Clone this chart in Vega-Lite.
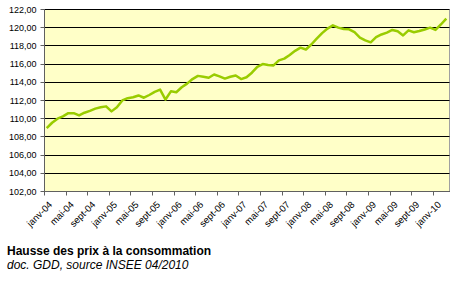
{
  "$schema": "https://vega.github.io/schema/vega-lite/v6.json",
  "width": 405,
  "height": 182,
  "autosize": {"type": "none"},
  "padding": {"left": 44, "top": 9, "right": 3, "bottom": 92},
  "background": "white",
  "title": {
    "text": "Hausse des prix à la consommation",
    "subtitle": "doc. GDD, source INSEE 04/2010",
    "orient": "bottom",
    "anchor": "start",
    "frame": "group",
    "dx": -37,
    "offset": 18,
    "font": "Liberation Sans",
    "fontSize": 12,
    "fontWeight": "bold",
    "color": "#000000",
    "subtitleFont": "Liberation Sans",
    "subtitleFontSize": 12,
    "subtitleFontStyle": "italic",
    "subtitleColor": "#000000",
    "subtitlePadding": 2
  },
  "config": {
    "view": {"fill": "#FFFFC8", "stroke": "#A0A0A0", "strokeWidth": 1},
    "axis": {"labelFont": "Liberation Sans", "labelColor": "#000000", "labelFontSize": 9}
  },
  "data": {
    "values": [
      {"mois": "janv-04", "ipc": 108.9}, {"mois": "févr-04", "ipc": 109.5}, {"mois": "mars-04", "ipc": 109.95}, {"mois": "avr-04", "ipc": 110.2},
      {"mois": "mai-04", "ipc": 110.55}, {"mois": "juin-04", "ipc": 110.55}, {"mois": "juil-04", "ipc": 110.3}, {"mois": "août-04", "ipc": 110.6},
      {"mois": "sept-04", "ipc": 110.8}, {"mois": "oct-04", "ipc": 111.05}, {"mois": "nov-04", "ipc": 111.2}, {"mois": "déc-04", "ipc": 111.3},
      {"mois": "janv-05", "ipc": 110.75}, {"mois": "févr-05", "ipc": 111.2}, {"mois": "mars-05", "ipc": 111.95}, {"mois": "avr-05", "ipc": 112.2},
      {"mois": "mai-05", "ipc": 112.3}, {"mois": "juin-05", "ipc": 112.5}, {"mois": "juil-05", "ipc": 112.25}, {"mois": "août-05", "ipc": 112.55},
      {"mois": "sept-05", "ipc": 112.9}, {"mois": "oct-05", "ipc": 113.15}, {"mois": "nov-05", "ipc": 112.05}, {"mois": "déc-05", "ipc": 112.95},
      {"mois": "janv-06", "ipc": 112.85}, {"mois": "févr-06", "ipc": 113.4}, {"mois": "mars-06", "ipc": 113.8}, {"mois": "avr-06", "ipc": 114.3},
      {"mois": "mai-06", "ipc": 114.65}, {"mois": "juin-06", "ipc": 114.55}, {"mois": "juil-06", "ipc": 114.45}, {"mois": "août-06", "ipc": 114.8},
      {"mois": "sept-06", "ipc": 114.6}, {"mois": "oct-06", "ipc": 114.35}, {"mois": "nov-06", "ipc": 114.55}, {"mois": "déc-06", "ipc": 114.7},
      {"mois": "janv-07", "ipc": 114.3}, {"mois": "févr-07", "ipc": 114.5}, {"mois": "mars-07", "ipc": 115.0}, {"mois": "avr-07", "ipc": 115.65},
      {"mois": "mai-07", "ipc": 115.95}, {"mois": "juin-07", "ipc": 115.85}, {"mois": "juil-07", "ipc": 115.8}, {"mois": "août-07", "ipc": 116.35},
      {"mois": "sept-07", "ipc": 116.55}, {"mois": "oct-07", "ipc": 116.95}, {"mois": "nov-07", "ipc": 117.4}, {"mois": "déc-07", "ipc": 117.75},
      {"mois": "janv-08", "ipc": 117.55}, {"mois": "févr-08", "ipc": 118.1}, {"mois": "mars-08", "ipc": 118.75}, {"mois": "avr-08", "ipc": 119.35},
      {"mois": "mai-08", "ipc": 119.85}, {"mois": "juin-08", "ipc": 120.2}, {"mois": "juil-08", "ipc": 119.95}, {"mois": "août-08", "ipc": 119.8},
      {"mois": "sept-08", "ipc": 119.77}, {"mois": "oct-08", "ipc": 119.45}, {"mois": "nov-08", "ipc": 118.85}, {"mois": "déc-08", "ipc": 118.55},
      {"mois": "janv-09", "ipc": 118.34}, {"mois": "févr-09", "ipc": 118.9}, {"mois": "mars-09", "ipc": 119.2}, {"mois": "avr-09", "ipc": 119.4},
      {"mois": "mai-09", "ipc": 119.7}, {"mois": "juin-09", "ipc": 119.55}, {"mois": "juil-09", "ipc": 119.1}, {"mois": "août-09", "ipc": 119.65},
      {"mois": "sept-09", "ipc": 119.45}, {"mois": "oct-09", "ipc": 119.58}, {"mois": "nov-09", "ipc": 119.75}, {"mois": "déc-09", "ipc": 119.95},
      {"mois": "janv-10", "ipc": 119.7}, {"mois": "févr-10", "ipc": 120.3}, {"mois": "mars-10", "ipc": 120.95}
    ]
  },
  "mark": {"type": "line", "color": "#99CC00", "strokeWidth": 2.5, "strokeJoin": "round"},
  "encoding": {
    "x": {
      "field": "mois",
      "type": "ordinal",
      "sort": null,
      "scale": {"type": "point", "padding": 0.5},
      "axis": {
        "title": null,
        "values": ["janv-04", "mai-04", "sept-04", "janv-05", "mai-05", "sept-05", "janv-06", "mai-06", "sept-06", "janv-07", "mai-07", "sept-07", "janv-08", "mai-08", "sept-08", "janv-09", "mai-09", "sept-09", "janv-10"],
        "labelAngle": -45,
        "labelAlign": "right",
        "labelBaseline": "top",
        "labelFontSize": 9.5,
        "tickOffset": -2.7,
        "labelOffset": 2.7,
        "tickSize": 4,
        "tickColor": "#606060",
        "domainColor": "#606060",
        "grid": false,
        "labelPadding": 4
      }
    },
    "y": {
      "field": "ipc",
      "type": "quantitative",
      "scale": {"domain": [102, 122], "nice": false, "zero": false},
      "axis": {
        "title": null,
        "values": [102, 104, 106, 108, 110, 112, 114, 116, 118, 120, 122],
        "labelExpr": "replace(format(datum.value, '.2f'), '.', ',')",
        "grid": true,
        "gridColor": "#000000",
        "gridWidth": 1,
        "tickSize": 4,
        "tickColor": "#606060",
        "domainColor": "#606060",
        "labelPadding": 4
      }
    }
  }
}
